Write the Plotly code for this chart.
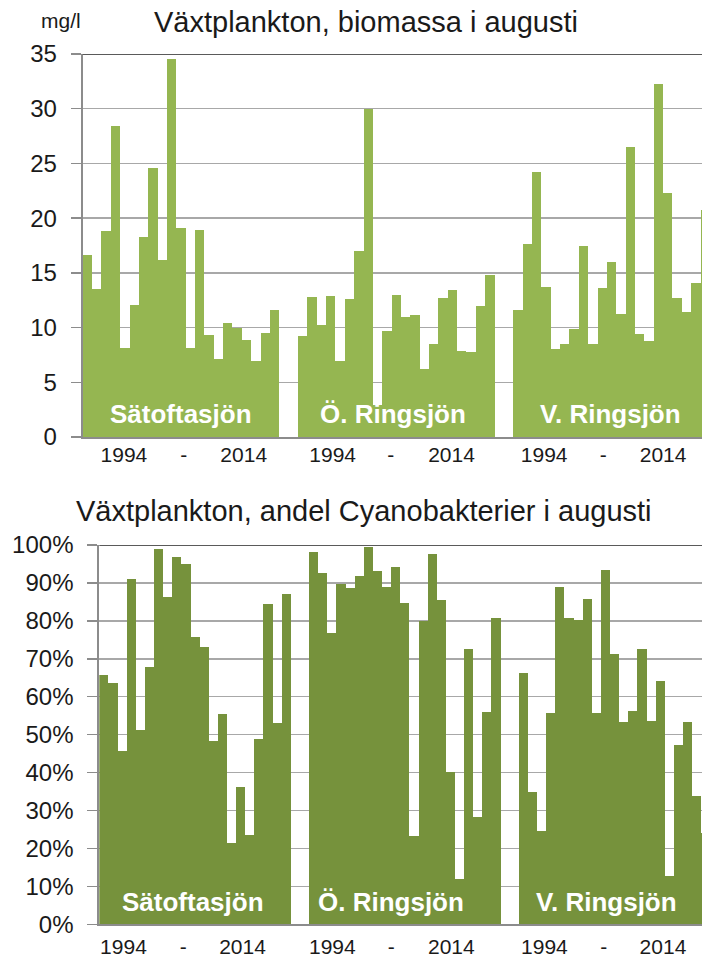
import plotly.graph_objects as go

# ---------------- data ----------------
lakes = ["Sätoftasjön", "Ö. Ringsjön", "V. Ringsjön"]
year_labels = ["1994", "-", "2014"]

biomass_satoftasjon = [16.6, 13.5, 18.8, 28.4, 8.1, 12.1, 18.3, 24.6, 16.2, 34.5, 19.1,
                       8.1, 18.9, 9.3, 7.1, 10.4, 10.0, 8.9, 6.9, 9.5, 11.6]
biomass_o_ringsjon = [9.25, 12.75, 10.25, 12.85, 6.9, 12.6, 17.0, 30.0, 2.9, 9.7, 13.0,
                      11.0, 11.15, 6.2, 8.5, 12.7, 13.4, 7.9, 7.8, 12.0, 14.8]
biomass_v_ringsjon = [11.6, 17.6, 24.2, 13.75, 8.0, 8.5, 9.9, 17.5, 8.5, 13.6, 16.0,
                      11.2, 26.5, 9.4, 8.8, 32.3, 22.3, 12.7, 11.4, 14.1, 20.7]

cyano_satoftasjon = [65.7, 63.5, 45.8, 91.0, 51.1, 67.9, 98.9, 86.2, 96.9, 94.9, 75.8,
                     73.2, 48.4, 55.4, 21.4, 36.1, 23.6, 48.9, 84.4, 53.2, 87.0]
cyano_o_ringsjon = [98.1, 92.5, 76.9, 89.6, 88.6, 91.9, 99.6, 93.2, 88.8, 94.1, 84.6,
                    23.3, 80.0, 97.5, 85.5, 40.1, 11.9, 72.5, 28.4, 55.9, 80.8]
cyano_v_ringsjon = [66.3, 34.8, 24.7, 55.6, 88.8, 80.8, 80.2, 85.8, 55.6, 93.4, 71.3,
                    53.3, 56.2, 72.6, 53.7, 64.1, 12.8, 47.3, 53.4, 33.8, 24.0]

top_title = "Växtplankton, biomassa i augusti"
bottom_title = "Växtplankton, andel Cyanobakterier i augusti"
unit_label = "mg/l"

# ---------------- layout helpers ----------------
W, H = 702, 956
FONT = "Liberation Sans, Arial, sans-serif"
TXT = "#1a1a1a"
TOP_GREEN = "#95b651"
BOT_GREEN = "#76923c"
GRID = "#a8a8a8"
AXIS = "#8c8c8c"
GROUP_STEP = 23  # bars per lake + empty slots between lakes

top_series = [biomass_satoftasjon, biomass_o_ringsjon, biomass_v_ringsjon]
bot_series = [cyano_satoftasjon, cyano_o_ringsjon, cyano_v_ringsjon]

# label offsets within each lake group (layout only)
top_tick_offsets = [[3.9, 10.3, 16.7], [3.2, 9.4, 15.9], [2.8, 9.1, 15.5]]
bot_tick_offsets = [[2.15, 8.7, 15.2], [2.05, 8.5, 15.1], [2.3, 8.8, 15.3]]
top_name_offsets = [10.0, 9.6, 9.9]
bot_name_offsets = [9.8, 8.5, 9.1]


def fx(px):
    return px / W


def fy(px):
    return 1 - px / H


fig = go.Figure()

for g, (lake, vals) in enumerate(zip(lakes, top_series)):
    fig.add_trace(go.Bar(
        x=[g * GROUP_STEP + i for i in range(len(vals))], y=vals, name=lake,
        marker=dict(color=TOP_GREEN, line=dict(width=0)),
        xaxis="x", yaxis="y", showlegend=False))

for g, (lake, vals) in enumerate(zip(lakes, bot_series)):
    fig.add_trace(go.Bar(
        x=[g * GROUP_STEP + i for i in range(len(vals))], y=vals, name=lake,
        marker=dict(color=BOT_GREEN, line=dict(width=0)),
        xaxis="x2", yaxis="y2", showlegend=False))

top_tickvals, top_ticktext, bot_tickvals, bot_ticktext = [], [], [], []
for g in range(len(lakes)):
    for off, lab in zip(top_tick_offsets[g], year_labels):
        top_tickvals.append(g * GROUP_STEP + off)
        top_ticktext.append(lab)
    for off, lab in zip(bot_tick_offsets[g], year_labels):
        bot_tickvals.append(g * GROUP_STEP + off)
        bot_ticktext.append(lab)

common_x = dict(showgrid=False, zeroline=False, showline=True, linecolor=AXIS,
                linewidth=2, ticks="", tickmode="array",
                tickfont=dict(family=FONT, size=21, color=TXT), automargin=False,
                fixedrange=True)
common_y = dict(showgrid=True, gridcolor=GRID, gridwidth=1.5, zeroline=False,
                showline=True, linecolor=AXIS, linewidth=2, ticks="outside",
                ticklen=10, tickwidth=1.5, tickcolor=AXIS,
                tickfont=dict(family=FONT, size=24, color=TXT), automargin=False,
                fixedrange=True)

fig.update_layout(
    width=W, height=H, template="none",
    margin=dict(l=0, r=0, t=0, b=0),
    paper_bgcolor="white", plot_bgcolor="white",
    bargap=0, barmode="overlay", showlegend=False,
    xaxis=dict(common_x, domain=[fx(82.7), 1], anchor="y", range=[-0.5, 65.66],
               tickvals=top_tickvals, ticktext=top_ticktext, ticklabelstandoff=-2),
    yaxis=dict(common_y, domain=[fy(437), fy(54)], anchor="x", range=[0, 35],
               dtick=5, tick0=0, ticklabelstandoff=9),
    xaxis2=dict(common_x, domain=[fx(99.3), 1], anchor="y2", range=[-0.5, 65.58],
                tickvals=bot_tickvals, ticktext=bot_ticktext, ticklabelstandoff=2),
    yaxis2=dict(common_y, domain=[fy(924.3), fy(545)], anchor="x2", range=[0, 100],
                dtick=10, tick0=0, ticksuffix="%", ticklabelstandoff=9),
)

shapes = [
    dict(type="line", xref="x domain", yref="y", x0=0, x1=1, y0=35, y1=35,
         line=dict(color="#5a5a5a", width=2)),
    dict(type="line", xref="x2 domain", yref="y2", x0=0, x1=1, y0=100, y1=100,
         line=dict(color="#5a5a5a", width=2)),
]
fig.update_layout(shapes=shapes)

annotations = [
    dict(text=top_title, x=fx(366), y=fy(22), xref="paper", yref="paper",
         showarrow=False, xanchor="center", yanchor="middle",
         font=dict(family=FONT, size=29, color=TXT)),
    dict(text=unit_label, x=fx(60.5), y=fy(20), xref="paper", yref="paper",
         showarrow=False, xanchor="center", yanchor="middle",
         font=dict(family=FONT, size=21, color=TXT)),
    dict(text=bottom_title, x=fx(363.5), y=fy(511), xref="paper", yref="paper",
         showarrow=False, xanchor="center", yanchor="middle",
         font=dict(family=FONT, size=29, color=TXT)),
]
for g, lake in enumerate(lakes):
    annotations.append(dict(
        text=lake, x=g * GROUP_STEP + top_name_offsets[g], y=2.1, xref="x", yref="y",
        showarrow=False, xanchor="center", yanchor="middle",
        font=dict(family=FONT, size=26, color="white", weight="bold")))
    annotations.append(dict(
        text=lake, x=g * GROUP_STEP + bot_name_offsets[g], y=6.0, xref="x2", yref="y2",
        showarrow=False, xanchor="center", yanchor="middle",
        font=dict(family=FONT, size=26, color="white", weight="bold")))
fig.update_layout(annotations=annotations)

fig.write_html(
    "out.html",
    config={"displayModeBar": False, "staticPlot": True},
    post_script="document.body.style.margin='0';document.body.style.overflow='hidden';",
)
